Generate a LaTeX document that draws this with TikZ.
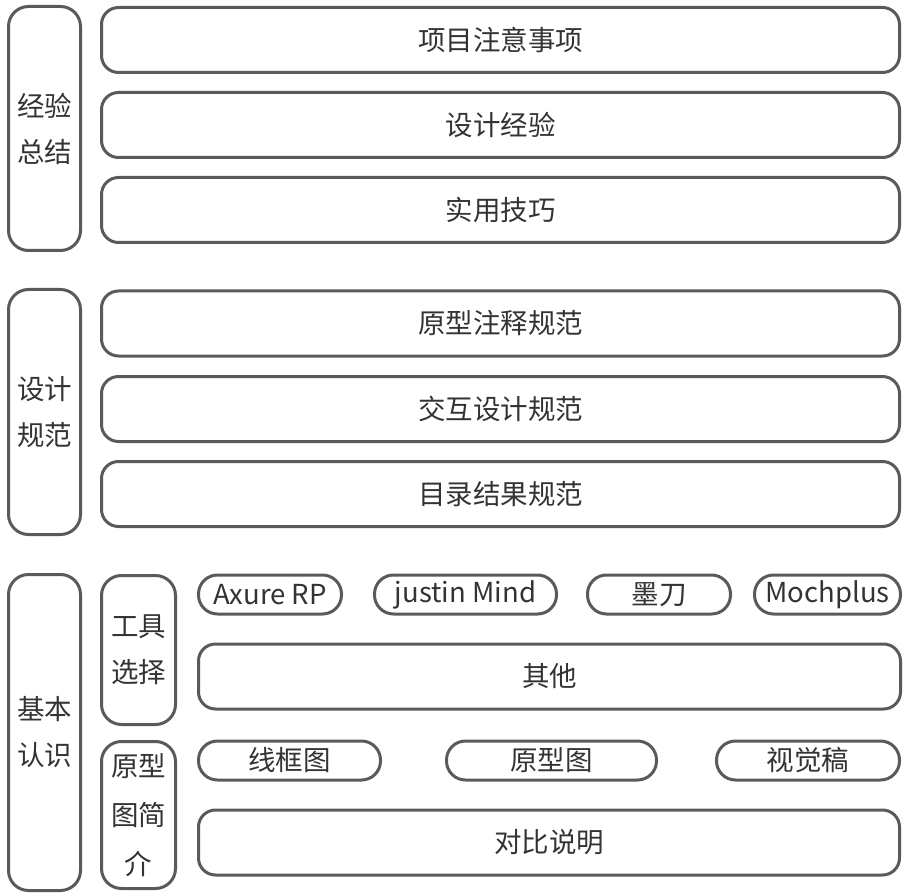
\documentclass[tikz,border=0pt]{standalone}
\usepackage{fontspec}
\newfontfamily\cjk{Noto Sans CJK SC}
\definecolor{linegray}{HTML}{5A5A5A}
\definecolor{textgray}{HTML}{333333}
\tikzset{
  box/.style={draw=linegray, line width=3pt, rounded corners=17pt, inner sep=0pt,
    text=textgray, font=\cjk\fontsize{27.5}{46}\selectfont, align=center},
  sidebox/.style={box, rounded corners=20pt, minimum width=72pt},
  pill/.style={box, rounded corners=19pt, minimum height=39pt},
  wide/.style={box, minimum height=65pt}
}
\begin{document}
\begin{tikzpicture}[x=1pt,y=-1pt]
\useasboundingbox (0,0) rectangle (911,896);
% 经验总结
\node[sidebox, minimum height=244pt] (jy) at (44.5,128.5) {经验\\总结};
\node[wide, minimum width=798pt] (xm) at (500.5,40) {项目注意事项};
\node[wide, minimum width=798pt] (sjjy) at (500.5,125) {设计经验};
\node[wide, minimum width=798pt] (syjq) at (500.5,210) {实用技巧};
% 设计规范
\node[sidebox, minimum height=245pt] (gf) at (44.5,412) {设计\\规范};
\node[wide, minimum width=798pt] (zs) at (500.5,323.5) {原型注释规范};
\node[wide, minimum width=798pt] (jh) at (500.5,409) {交互设计规范};
\node[wide, minimum width=798pt] (ml) at (500.5,494) {目录结果规范};
% 基本认识
\node[sidebox, minimum height=316pt] (jb) at (44.5,732.5) {基本\\认识};
\node[sidebox, minimum width=74pt, minimum height=149pt] (gj) at (138.5,650) {工具\\选择};
\node[sidebox, minimum width=74pt, minimum height=147pt, font=\cjk\fontsize{27.5}{49}\selectfont] (yx) at (138.5,815) {原型\\图简\\介};
\node[pill, minimum width=143pt] (axure) at (270,594.5) {Axure RP};
\node[pill, minimum width=182pt] (justin) at (465.5,594.5) {justin Mind};
\node[pill, minimum width=143pt] (md) at (659,594.5) {墨刀};
\node[pill, minimum width=146pt] (moch) at (827.5,594.5) {Mochplus};
\node[wide, minimum width=702pt] (qt) at (549.5,676.5) {其他};
\node[pill, minimum width=182pt] (xk) at (289.5,760.5) {线框图};
\node[pill, minimum width=210pt] (yxt) at (551.5,760.5) {原型图};
\node[pill, minimum width=183pt] (sj) at (808,760.5) {视觉稿};
\node[wide, minimum width=701pt] (db) at (549,842.5) {对比说明};
\end{tikzpicture}
\end{document}
